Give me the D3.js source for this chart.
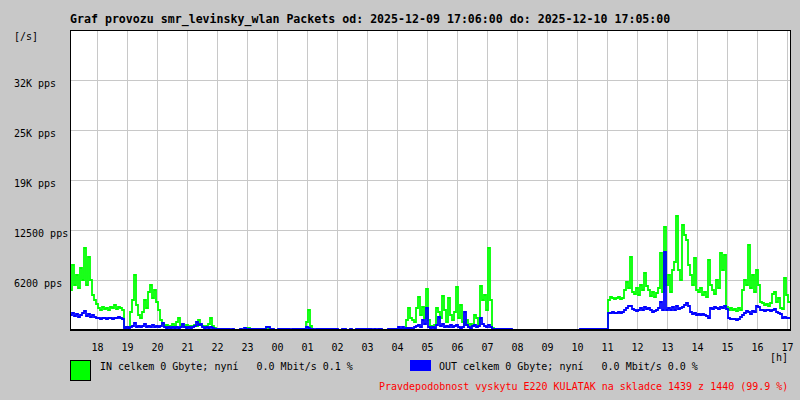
<!DOCTYPE html>
<html><head><meta charset="utf-8">
<script src="https://cdn.jsdelivr.net/npm/d3@7"></script>
<style>
html,body{margin:0;padding:0;background:#c8c8c8;}
svg{display:block;}
</style></head><body>
<svg id="chart" width="800" height="400"></svg>
<script>
const title = "Graf provozu smr_levinsky_wlan Packets od: 2025-12-09 17:06:00 do: 2025-12-10 17:05:00";
const startTime = new Date(2025, 11, 9, 17, 6);
const endTime = new Date(2025, 11, 10, 17, 6);
const stepMinutes = 4;
const yUnitLabel = "[/s]";
const xUnitLabel = "[h]";
const yTickValues = [6250, 12500, 18750, 25000, 31250];
const yTickLabels = ["6200 pps", "12500 pps", "19K pps", "25K pps", "32K pps"];
const xTickLabels = ["18","19","20","21","22","23","00","01","02","03","04","05","06","07","08","09","10","11","12","13","14","15","16","17"];

const inValues = [
5000,8125,5625,6875,5250,7750,6250,10250,5625,9125,
6250,4375,3750,3250,2750,2500,2875,2625,2750,2500,
2875,2750,3125,2625,2875,2750,2500,375,250,375,
2250,3750,6875,3125,1875,1500,2250,3750,2750,4750,
5625,4000,5000,3500,2500,1250,750,500,625,375,
500,750,500,1000,1500,625,500,375,625,375,
500,375,625,500,1250,625,500,375,500,750,
1500,500,250,0,0,0,0,0,0,0,
0,0,0,0,0,0,0,0,250,250,
0,0,0,0,0,0,0,0,375,250,
0,0,0,0,0,0,0,0,0,0,
0,0,0,0,0,0,0,0,1000,2500,
500,0,0,0,0,0,0,0,0,0,
0,0,0,0,0,0,0,0,0,0,
0,0,0,0,0,0,0,0,0,0,
0,0,0,0,0,0,0,0,0,0,
0,0,0,0,125,125,125,125,1250,2750,
1500,1250,1000,2750,4125,1875,2875,1500,5125,1250,
500,375,625,2750,2250,1500,4250,2500,1000,4000,
1875,1250,2250,5375,1500,3125,1000,625,1250,375,
750,500,1875,1500,750,5500,3750,4375,2500,10250,
3750,250,0,0,0,0,0,0,0,0,
0,0,0,0,0,0,0,0,0,0,
0,0,0,0,0,0,0,0,0,0,
0,0,0,0,0,0,0,0,0,0,
0,0,0,0,0,0,0,0,0,0,
0,0,0,0,0,0,0,0,0,3750,
4125,4000,3875,4000,4125,3875,4000,5000,6000,5250,
9125,4750,4500,5250,4375,5625,5000,7125,5500,5000,
4250,4750,4125,4625,5250,9625,4750,12875,5625,6875,
4750,7500,8500,14250,7500,6250,13125,11875,11250,8125,
6875,5625,9000,5000,4750,5250,4375,4750,4125,8750,
5625,5000,4500,6250,5250,9625,7500,9375,2875,2500,
2750,2500,2625,2375,2750,2500,5000,6250,5625,10625,
5250,6875,4750,7500,5625,3500,3375,3125,3250,3000,
3375,4500,4750,3500,4000,2750,2625,6500,4375,3500
];

const outValues = [
1875,2125,1750,2000,1625,1875,2125,2375,1750,2000,
1625,1875,1625,1500,1500,1375,1500,1500,1375,1500,
1500,1375,1500,1500,1625,1500,1375,250,375,250,
375,500,875,375,500,375,500,750,375,500,
375,625,375,500,375,500,875,375,250,375,
250,375,250,375,250,375,750,375,250,375,
250,375,500,1000,625,750,375,250,375,250,
375,250,125,125,125,125,125,125,125,125,
0,125,0,0,0,125,0,250,125,125,
125,125,125,125,125,125,125,125,375,375,
125,125,0,0,125,125,125,125,125,125,
0,125,125,125,125,125,125,125,375,250,
125,125,0,125,125,125,125,125,125,125,
125,125,125,125,0,0,125,125,0,0,
125,0,0,125,125,125,125,125,125,125,
125,0,125,0,125,125,0,0,0,125,
125,125,125,125,375,125,375,125,250,250,
250,125,375,500,625,375,1250,750,2750,375,
250,375,250,625,1625,500,750,375,500,375,
625,375,500,625,375,250,375,2250,625,375,
250,500,625,375,500,1500,750,500,375,625,
375,125,125,125,125,125,125,125,125,125,
125,0,0,0,0,0,0,0,0,0,
0,0,0,0,0,0,0,0,0,0,
0,0,0,0,0,0,0,0,0,0,
0,0,0,0,0,125,125,125,125,125,
125,125,125,125,125,125,125,125,125,2125,
2125,2250,2125,2125,2250,2125,2250,2500,2750,3000,
3000,2625,2500,2375,2500,2750,2500,2875,2625,2750,
2500,2250,2375,2500,2750,3500,2500,9750,2500,2750,
2500,2875,2500,3000,2625,2750,2875,3125,3375,3000,
2250,2000,2125,1875,2000,1875,2000,1875,1750,1500,
2750,2625,2875,2750,2625,2875,2750,3000,2625,1500,
1375,1375,1375,1250,1375,1625,1875,2125,2375,2250,
2000,2375,2250,3000,2875,2500,2500,2375,2500,2500,
2375,2500,2625,2250,2125,2000,1500,1625,1500,1500
];

const legendIn = "IN celkem 0 Gbyte; nyní   0.0 Mbit/s 0.1 %";
const legendOut = "OUT celkem 0 Gbyte; nyní   0.0 Mbit/s 0.0 %";
const footer = "Pravdepodobnost vyskytu E220 KULATAK na skladce 1439 z 1440 (99.9 %)";

const colIn = "#00ff00", colOut = "#0000ff", grid = "#c8c8c8";
const FONT = "'DejaVu Sans Mono', 'Liberation Mono', monospace";
const M = {left: 70, right: 790, top: 30, bottom: 330};

const svg = d3.select("#chart");
svg.append("rect").attr("width", 800).attr("height", 400).attr("fill", "#c8c8c8");

const x = d3.scaleTime().domain([startTime, endTime]).range([M.left, M.right]);
const y = d3.scaleLinear().domain([0, 37500]).range([M.bottom, M.top]);

svg.append("rect").attr("x", M.left).attr("y", M.top)
  .attr("width", M.right - M.left).attr("height", M.bottom - M.top).attr("fill", "#fff");

// vertical grid + hour labels
const hourTicks = d3.timeHour.range(d3.timeHour.ceil(startTime), endTime);
const gx = svg.append("g").attr("transform", `translate(0,${M.bottom})`)
  .call(d3.axisBottom(x).tickValues(hourTicks).tickSize(-(M.bottom - M.top))
    .tickFormat((d, i) => xTickLabels[i]));
gx.attr("font-family", FONT).attr("font-size", 10);
gx.select(".domain").remove();
gx.selectAll(".tick line").attr("stroke", grid).attr("shape-rendering", "crispEdges");
gx.selectAll(".tick text").attr("y", 21).attr("dy", 0).attr("fill", "#000");

// horizontal grid + value labels
const gy = svg.append("g").attr("transform", `translate(${M.left},0)`)
  .call(d3.axisLeft(y).tickValues(yTickValues).tickSize(-(M.right - M.left + 2))
    .tickFormat((d, i) => yTickLabels[i]));
gy.attr("font-family", FONT).attr("font-size", 10);
gy.select(".domain").remove();
gy.selectAll(".tick line").attr("stroke", grid).attr("shape-rendering", "crispEdges");
gy.selectAll(".tick text").attr("x", 14 - M.left).attr("y", 6).attr("dy", 0)
  .attr("text-anchor", "start").attr("fill", "#000");

// data lines
svg.append("clipPath").attr("id", "plotclip").append("rect")
  .attr("x", M.left).attr("y", M.top - 2).attr("width", M.right - M.left).attr("height", M.bottom - M.top + 2);

const toPoints = vals => vals.map((v, i) => ({t: d3.timeMinute.offset(startTime, i * stepMinutes), v}))
  .concat([{t: endTime, v: vals[vals.length - 1]}]);
const line = d3.line().x(d => x(d.t)).y(d => y(d.v)).curve(d3.curveStepAfter);

const plot = svg.append("g").attr("clip-path", "url(#plotclip)");
plot.append("path").datum(toPoints(inValues)).attr("d", line)
  .attr("fill", "none").attr("stroke", colIn).attr("stroke-width", 1.8);
plot.append("path").datum(toPoints(outValues)).attr("d", line)
  .attr("fill", "none").attr("stroke", colOut).attr("stroke-width", 1.8);

// frame
const frame = svg.append("g").attr("stroke", "#000").attr("shape-rendering", "crispEdges");
frame.append("line").attr("x1", M.left).attr("x2", M.right + 1).attr("y1", M.top + 0.5).attr("y2", M.top + 0.5);
frame.append("line").attr("x1", M.left + 0.5).attr("x2", M.left + 0.5).attr("y1", M.top).attr("y2", M.bottom + 1);
frame.append("line").attr("x1", M.right + 0.5).attr("x2", M.right + 0.5).attr("y1", M.top).attr("y2", M.bottom + 1);
frame.append("line").attr("x1", M.left).attr("x2", M.right + 1).attr("y1", M.bottom).attr("y2", M.bottom).attr("stroke-width", 2);

// texts
svg.append("text").attr("x", 70).attr("y", 23).attr("font-family", FONT)
  .attr("font-size", 11.6).attr("font-weight", "bold").attr("fill", "#000").text(title);
svg.append("text").attr("x", 14).attr("y", 40).attr("font-family", FONT)
  .attr("font-size", 10).attr("fill", "#000").text(yUnitLabel);
svg.append("text").attr("x", 770).attr("y", 361).attr("font-family", FONT)
  .attr("font-size", 10).attr("fill", "#000").text(xUnitLabel);

// legend
svg.append("rect").attr("x", 70.5).attr("y", 360.5).attr("width", 20).attr("height", 20)
  .attr("fill", colIn).attr("stroke", "#000");
svg.append("text").attr("x", 100).attr("y", 370).attr("font-family", FONT).attr("font-size", 10)
  .style("white-space", "pre").attr("fill", "#000").text(legendIn);
svg.append("rect").attr("x", 410).attr("y", 360).attr("width", 21).attr("height", 11).attr("fill", colOut);
svg.append("text").attr("x", 439).attr("y", 370).attr("font-family", FONT).attr("font-size", 10)
  .style("white-space", "pre").attr("fill", "#000").text(legendOut);
svg.append("text").attr("x", 379).attr("y", 390).attr("font-family", FONT).attr("font-size", 10)
  .style("white-space", "pre").attr("fill", "#ff0000").text(footer);
</script>
</body></html>
